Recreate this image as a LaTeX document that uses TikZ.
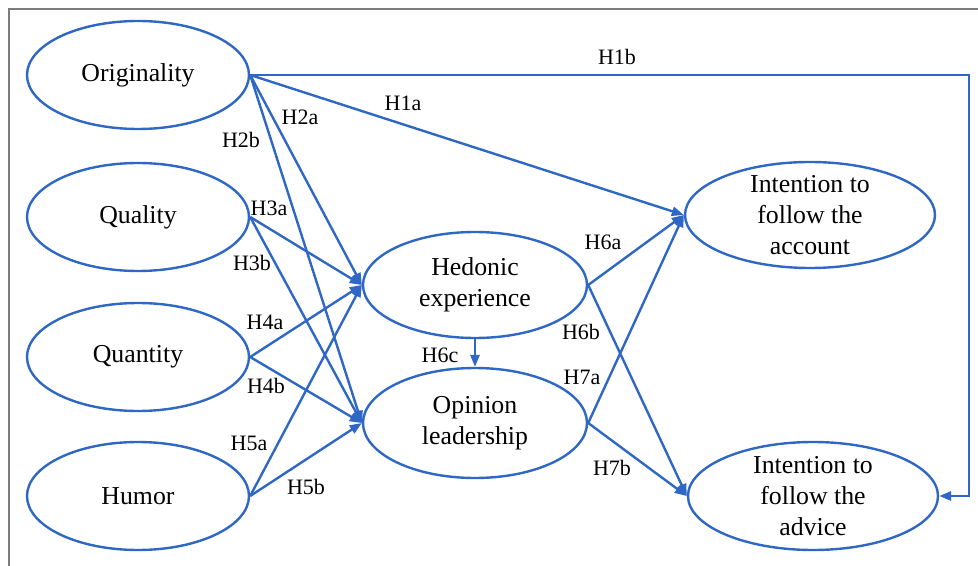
\documentclass[tikz,border=0pt]{standalone}
\usepackage{fontspec}
\setmainfont{Liberation Serif}
\usepackage{xcolor}
\usepackage{tikz}
\usetikzlibrary{positioning, arrows.meta, shapes.geometric}

\definecolor{pathblue}{RGB}{46,104,196}
\definecolor{framegray}{RGB}{125,125,125}

\begin{document}
\begin{tikzpicture}[
    x=0.5pt, y=-0.5pt,
    latent/.style={draw=pathblue, ellipse, line width=1.2pt, inner sep=0pt, align=center, font=\fontsize{12.9}{15.5}\selectfont},
    multi/.style={align=center, inner sep=0pt, font=\fontsize{12.9}{15.5}\selectfont},
    arr/.style={-{Triangle[length=6pt, width=4.6pt]}, line width=1.2pt, draw=pathblue},
    hlab/.style={inner sep=0pt, font=\fontsize{11}{13}\selectfont}
]
    \useasboundingbox (0,0) rectangle (978,566);
    \draw[framegray, line width=1.1pt] (9,566) -- (9,9) -- (978,9);

    % exogenous constructs
    \node[latent, minimum width=111pt, minimum height=54pt] (orig) at (138,75)  {Originality};
    \node[latent, minimum width=111pt, minimum height=54pt] (qual) at (138,217) {Quality};
    \node[latent, minimum width=111pt, minimum height=54pt] (quan) at (138,357) {Quantity};
    \node[latent, minimum width=111pt, minimum height=54pt] (hum)  at (138,496) {Humor};

    % mediators
    \node[latent, minimum width=112pt, minimum height=53pt] (hed) at (475,285) {Hedonic\\experience};
    \node[latent, minimum width=112pt, minimum height=55pt] (opi) at (475,423) {Opinion\\leadership};

    % outcomes
    \node[latent, minimum width=125pt, minimum height=53pt,
          label={[multi]center:Intention to\\follow the\\account}] (acc) at (810,215) {};
    \node[latent, minimum width=125pt, minimum height=54pt,
          label={[multi]center:Intention to\\follow the\\advice}] (adv) at (813,496) {};

    \coordinate (turn) at (969,75);

    \draw[arr] (orig.east) -- (acc.west);
    \draw[arr] (orig.east) -- (turn) |- (adv.east);
    \draw[arr] (orig.east) -- (hed.west);
    \draw[arr] (orig.east) -- (opi.west);
    \draw[arr] (qual.east) -- (hed.west);
    \draw[arr] (qual.east) -- (opi.west);
    \draw[arr] (quan.east) -- (hed.west);
    \draw[arr] (quan.east) -- (opi.west);
    \draw[arr] (hum.east) -- (hed.west);
    \draw[arr] (hum.east) -- (opi.west);
    \draw[arr] (hed.east) -- (acc.west);
    \draw[arr] (hed.east) -- (adv.west);
    \draw[arr] (hed.south) -- (opi.north);
    \draw[arr] (opi.east) -- (acc.west);
    \draw[arr] (opi.east) -- (adv.west);

    % path labels
    \node[hlab] (l1b) at (617,57)  {H1b};
    \node[hlab] (l1a) at (403,103) {H1a};
    \node[hlab] (l2a) at (300,117) {H2a};
    \node[hlab] (l2b) at (241,140) {H2b};
    \node[hlab] (l3a) at (269,208) {H3a};
    \node[hlab] (l3b) at (252,263) {H3b};
    \node[hlab] (l4a) at (265,322) {H4a};
    \node[hlab] (l4b) at (266,386) {H4b};
    \node[hlab] (l5a) at (249,443) {H5a};
    \node[hlab] (l5b) at (306,487) {H5b};
    \node[hlab] (l6a) at (603,242) {H6a};
    \node[hlab] (l6b) at (581,332) {H6b};
    \node[hlab] (l6c) at (440,355) {H6c};
    \node[hlab] (l7a) at (582,377) {H7a};
    \node[hlab] (l7b) at (612,468) {H7b};
\end{tikzpicture}
\end{document}
